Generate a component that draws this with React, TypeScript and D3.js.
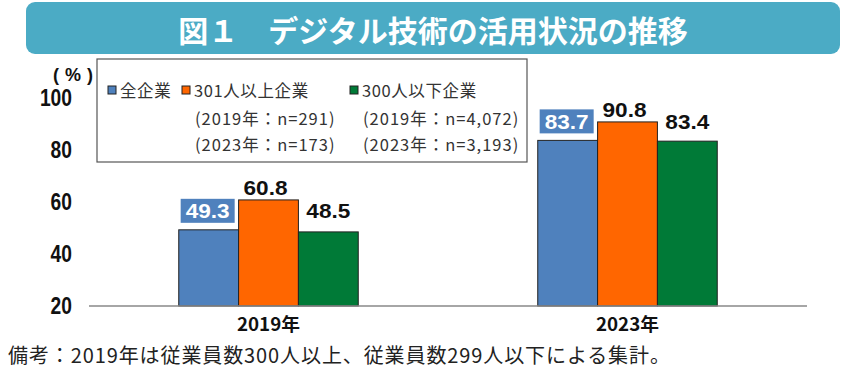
import React from "react";
import * as d3 from "d3";

const categories = ["2019年", "2023年"];
const seriesNames = ["全企業", "301人以上企業", "300人以下企業"];
const seriesColors = ["#4F81BD", "#FF6600", "#007A37"];
const values2019 = [49.3, 60.8, 48.5];
const values2023 = [83.7, 90.8, 83.4];
const yTicks = [20, 40, 60, 80, 100];
const legendNotes = [
  ["", "(2019年：n=291)", "(2019年：n=4,072)"],
  ["", "(2023年：n=173)", "(2023年：n=3,193)"],
];
const titleText = "図１　デジタル技術の活用状況の推移";
const footnote = "備考：2019年は従業員数300人以上、従業員数299人以下による集計。";

const W = 864;
const H = 368;
const numFont = "'Liberation Sans', Arial, sans-serif";
const jpFont = "'Noto Sans CJK JP', 'Noto Sans', sans-serif";

export default function App() {
  const data = [values2019, values2023];
  const x0 = d3.scaleBand<string>().domain(categories).range([89, 807]);
  const x1 = d3
    .scaleBand<string>()
    .domain(seriesNames)
    .range([x0.bandwidth() / 4, (x0.bandwidth() * 3) / 4]);
  const y = d3.scaleLinear().domain([20, 100]).range([306, 98]);
  const fmt = d3.format(".1f");

  const legendX = [108, 182, 350];

  const valueText = (
    key: string,
    xPos: number,
    yPos: number,
    v: number,
    fill: string,
    central: boolean
  ) => {
    const s = fmt(v);
    return (
      <text
        key={key}
        x={xPos}
        y={yPos}
        textAnchor="middle"
        dominantBaseline={central ? "central" : "auto"}
        fontFamily={numFont}
        fontWeight="bold"
        fontSize={21}
        fill={fill}
        textLength={44}
        lengthAdjust="spacingAndGlyphs"
      >
        {s}
      </text>
    );
  };

  return (
    <svg
      width={W}
      height={H}
      style={{ position: "absolute", left: 0, top: 0, background: "#fff" }}
    >
      {/* Title banner */}
      <rect x={26} y={2} width={814} height={52} rx={9} fill="#4BABC5" />
      <text
        x={433}
        y={29}
        textAnchor="middle"
        dominantBaseline="central"
        fill="#fff"
        fontFamily={jpFont}
        fontWeight="bold"
        fontSize={30}
      >
        {titleText}
      </text>

      {/* Legend box */}
      <rect x={97} y={59} width={430} height={103} fill="#fff" stroke="#555" strokeWidth={1.2} />
      {seriesNames.map((name, i) => (
        <g key={name}>
          <rect
            x={legendX[i]}
            y={86}
            width={8}
            height={8}
            fill={seriesColors[i]}
            stroke="#222"
            strokeWidth={1}
          />
          <text
            x={legendX[i] + 12}
            y={90}
            dominantBaseline="central"
            fontFamily={jpFont}
            fontSize={16.5}
            letterSpacing={0.6}
            fill="#333"
          >
            {name}
          </text>
        </g>
      ))}
      {legendNotes.map((row, r) =>
        row.map((note, i) =>
          note ? (
            <text
              key={`${r}-${i}`}
              x={legendX[i] + 13}
              y={118 + r * 26}
              dominantBaseline="central"
              fontFamily={jpFont}
              fontSize={16.5}
              letterSpacing={1}
              fill="#333"
            >
              {note}
            </text>
          ) : null
        )
      )}

      {/* Y ticks */}
      <text
        x={73}
        y={75}
        textAnchor="middle"
        dominantBaseline="central"
        fontFamily={numFont}
        fontWeight="bold"
        fontSize={18}
        fill="#111"
        textLength={40}
        lengthAdjust="spacing"
      >
        (%)
      </text>
      {yTicks.map((t) => (
        <text
          key={t}
          x={72}
          y={y(t)}
          textAnchor="end"
          dominantBaseline="central"
          fontFamily={numFont}
          fontWeight="bold"
          fontSize={23}
          fill="#111"
          textLength={String(t).length * 10.7}
          lengthAdjust="spacingAndGlyphs"
        >
          {t}
        </text>
      ))}

      {/* Bars */}
      {categories.map((c, ci) => (
        <g key={c} transform={`translate(${x0(c)},0)`}>
          {seriesNames.map((s, si) => (
            <rect
              key={s}
              x={x1(s)}
              y={y(data[ci][si])}
              width={x1.bandwidth()}
              height={y(20) - y(data[ci][si])}
              fill={seriesColors[si]}
              stroke="#222"
              strokeWidth={1}
            />
          ))}
          {seriesNames.map((s, si) => {
            const cx = (x1(s) as number) + x1.bandwidth() / 2;
            const v = data[ci][si];
            if (si === 0) {
              const cy = y(v) - 19;
              return (
                <g key={s}>
                  <rect x={cx - 28} y={cy - 12} width={54} height={24} fill={seriesColors[0]} />
                  {valueText("t", cx - 1, cy, v, "#fff", true)}
                </g>
              );
            }
            if (si === 1) {
              return valueText(s, cx - 3, y(v) - 5, v, "#111", false);
            }
            return valueText(s, cx, y(data[ci][0]) - 19, v, "#111", true);
          })}
          <text
            x={x0.bandwidth() / 2}
            y={323}
            textAnchor="middle"
            dominantBaseline="central"
            fontFamily={jpFont}
            fontWeight="bold"
            fontSize={18}
            fill="#111"
            textLength={63}
            lengthAdjust="spacingAndGlyphs"
          >
            {c}
          </text>
        </g>
      ))}

      {/* Baseline */}
      <line x1={89} x2={807} y1={y(20)} y2={y(20)} stroke="#888" strokeWidth={1.5} />

      {/* Footnote */}
      <text
        x={8}
        y={354}
        dominantBaseline="central"
        fontFamily={jpFont}
        fontSize={20}
        letterSpacing={0.9}
        fill="#222"
      >
        {footnote}
      </text>
    </svg>
  );
}
